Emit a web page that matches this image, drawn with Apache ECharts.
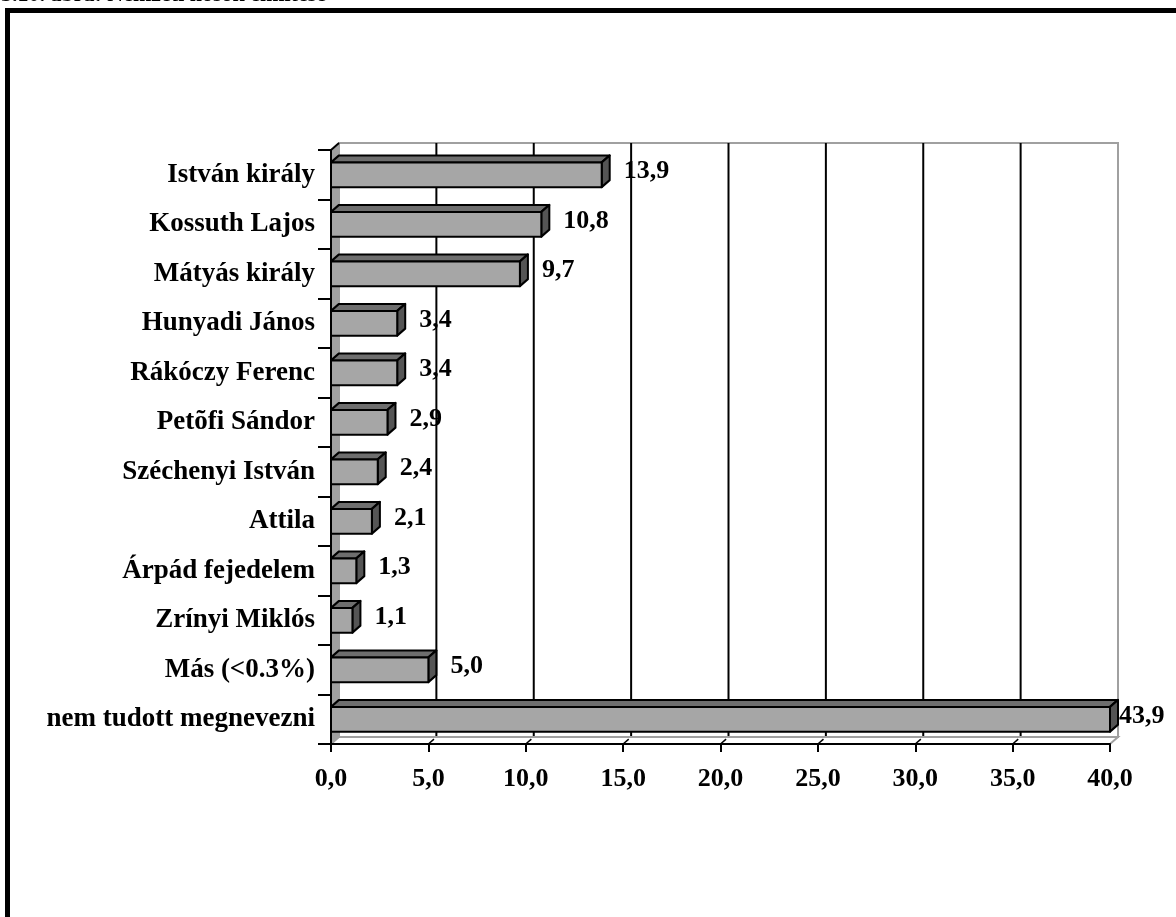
<!DOCTYPE html>
<html><head><meta charset="utf-8">
<script src="https://cdn.jsdelivr.net/npm/echarts@6/dist/echarts.min.js"></script>
<style>html,body{margin:0;padding:0;background:#fff}#c{width:1176px;height:917px}</style>
</head><body><div id="c"></div>
<script>
const categories = ['István király','Kossuth Lajos','Mátyás király','Hunyadi János','Rákóczy Ferenc','Petõfi Sándor','Széchenyi István','Attila','Árpád fejedelem','Zrínyi Miklós','Más (<0.3%)','nem tudott megnevezni'];
const values = [13.9,10.8,9.7,3.4,3.4,2.9,2.4,2.1,1.3,1.1,5.0,43.9];
const axisMin = 0, axisMax = 40, axisStep = 5;
const titleText = '3.10. ábra: Nemzeti hõsök említése';

const FONT = '"Liberation Serif","Times New Roman",serif';
const DX = 8, DY = 7;
const fmt = v => v.toFixed(1).replace('.', ',');
const mctx = document.createElement('canvas').getContext('2d');
const labelFont = 'bold 26px ' + FONT;
mctx.font = labelFont;

function renderWalls(params, api) {
  const cs = params.coordSys;
  const x0 = cs.x, x1 = cs.x + cs.width, y0 = cs.y, y1 = cs.y + cs.height;
  const ch = [];
  ch.push({type:'rect', shape:{x:x0+DX, y:y0-DY, width:cs.width, height:cs.height},
    style:{fill:'#fff', stroke:'#a0a0a0', lineWidth:2}});
  for (let v = axisMin + axisStep; v < axisMax; v += axisStep) {
    const px = api.coord([v, 0])[0];
    ch.push({type:'line', shape:{x1:px+DX, y1:y0-DY, x2:px+DX, y2:y1-DY}, style:{stroke:'#000', lineWidth:2}});
  }
  ch.push({type:'polygon', shape:{points:[[x0,y1],[x0+DX,y1-DY],[x1+DX,y1-DY],[x1,y1]]},
    style:{fill:'#fff', stroke:'#a0a0a0', lineWidth:2}});
  for (let v = axisMin + axisStep; v < axisMax; v += axisStep) {
    const px = api.coord([v, 0])[0];
    ch.push({type:'line', shape:{x1:px, y1:y1, x2:px+DX*0.7, y2:y1-DY*0.7}, style:{stroke:'#000', lineWidth:1.5}});
  }
  ch.push({type:'polygon', shape:{points:[[x0,y0],[x0+DX,y0-DY],[x0+DX,y1-DY],[x0,y1]]},
    style:{fill:'#a0a0a0', stroke:'#a0a0a0', lineWidth:1}});
  ch.push({type:'line', shape:{x1:x0, y1:y0, x2:x0+DX, y2:y0-DY}, style:{stroke:'#000', lineWidth:2}});
  return {type:'group', children:ch};
}

function renderBar(params, api) {
  const v = api.value(0), idx = api.value(1);
  const c0 = api.coord([axisMin, idx]);
  const c1 = api.coord([Math.min(v, axisMax), idx]);
  const band = api.size([0, 1])[1];
  const h = band * 0.5;
  const top = c0[1] - h / 2, bot = c0[1] + h / 2;
  const xa = c0[0], xb = c1[0];
  const stroke = {stroke:'#000', lineWidth:2, lineJoin:'round'};
  const txt = fmt(v);
  const tw = mctx.measureText(txt).width;
  let lx = xb + DX + 14;
  if (lx + tw > api.getWidth() - 2) lx = xb + DX + 1;
  return {type:'group', children:[
    {type:'polygon', shape:{points:[[xa,top],[xa+DX,top-DY],[xb+DX,top-DY],[xb,top]]}, style:Object.assign({fill:'#6e6e6e'}, stroke)},
    {type:'polygon', shape:{points:[[xb,top],[xb+DX,top-DY],[xb+DX,bot-DY],[xb,bot]]}, style:Object.assign({fill:'#555555'}, stroke)},
    {type:'rect', shape:{x:xa, y:top, width:xb-xa, height:h}, style:Object.assign({fill:'#a6a6a6'}, stroke)},
    {type:'text', style:{text:txt, x:lx, y:c0[1]-3, font:labelFont, fill:'#000', textAlign:'left', textVerticalAlign:'middle'}}
  ]};
}

const chart = echarts.init(document.getElementById('c'), null, {renderer:'canvas'});
chart.setOption({
  backgroundColor:'#fff',
  animation:false,
  grid:{left:331, right:66, top:150, bottom:173, containLabel:false},
  xAxis:{type:'value', min:axisMin, max:axisMax, interval:axisStep,
    axisLine:{show:true, lineStyle:{color:'#000', width:2}},
    axisTick:{show:true, length:8, lineStyle:{color:'#000', width:2}},
    splitLine:{show:false},
    axisLabel:{formatter:v => fmt(v), color:'#000', fontFamily:FONT, fontWeight:'bold', fontSize:26, margin:22}},
  yAxis:{type:'category', data:categories, inverse:true,
    axisLine:{show:true, lineStyle:{color:'#000', width:2}},
    axisTick:{show:true, length:13, lineStyle:{color:'#000', width:2}},
    splitLine:{show:false},
    axisLabel:{color:'#000', fontFamily:FONT, fontWeight:'bold', fontSize:27, margin:16}},
  graphic:[
    {type:'rect', shape:{x:7.5, y:10.5, width:1400, height:1200}, style:{fill:'none', stroke:'#000', lineWidth:5}, silent:true, z:100},
    {type:'text', x:1, y:-16, style:{text:titleText, font:'bold 22px ' + FONT, fill:'#000', textVerticalAlign:'top'}, z:100}
  ],
  series:[
    {type:'custom', z:-1, clip:false, renderItem:renderWalls, data:[[0,0]], silent:true},
    {type:'custom', z:3, clip:false, renderItem:renderBar, encode:{x:0, y:1},
      data:values.map((v, i) => [v, i]), silent:true}
  ]
});
</script></body></html>
